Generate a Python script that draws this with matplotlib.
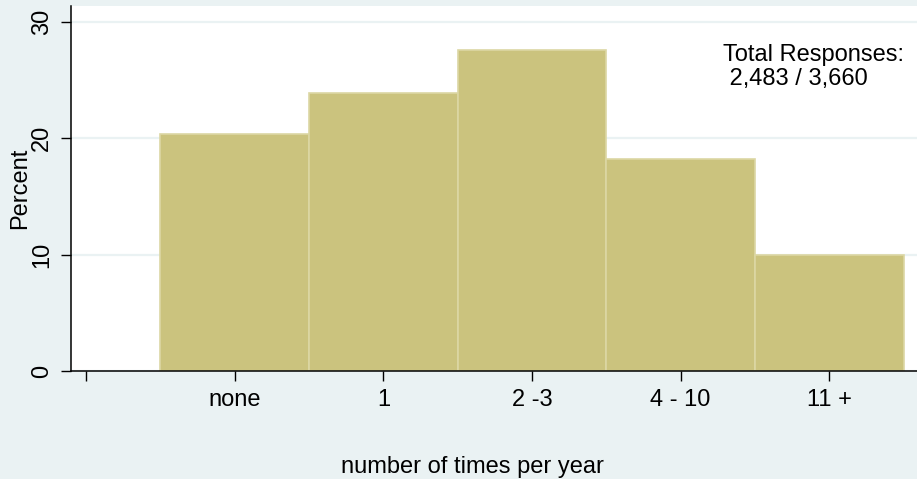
import matplotlib
matplotlib.use("Agg")
import matplotlib.pyplot as plt

# Data
categories = ["none", "1", "2 -3", "4 - 10", "11 +"]
percent = [20.4, 23.9, 27.6, 18.2, 10.0]
positions = [1, 2, 3, 4, 5]
y_ticks = [0, 10, 20, 30]
x_label = "number of times per year"
y_label = "Percent"
note_lines = ["Total Responses:", " 2,483 / 3,660"]

# Stata s2color-like colors
bg_color = "#eaf2f3"
bar_color = "#cbc37e"
edge_color = "#dcd7a4"

plt.rcParams["font.family"] = ["Liberation Sans", "DejaVu Sans"]
plt.rcParams["font.size"] = 17

fig = plt.figure(figsize=(9.17, 4.79), dpi=100, facecolor=bg_color)
ax = fig.add_axes([71 / 917, 1 - 371 / 479, 846 / 917, 365 / 479])
ax.set_facecolor("white")

# Histogram bars, touching each other
ax.bar(positions, percent, width=1.0, color=bar_color,
       edgecolor=edge_color, linewidth=1.2, zorder=2)

# Axis ranges
ax.set_xlim(-0.101, 5.59)
ax.set_ylim(0, 31.38)

# Ticks: blank tick at 0, then one per category
ax.set_xticks([0] + positions)
ax.set_xticklabels([""] + categories)
ax.set_yticks(y_ticks)
ax.set_yticklabels([str(t) for t in y_ticks], rotation=90, va="center")
ax.tick_params(axis="both", direction="out", length=7.2, width=1, color="black")
ax.tick_params(axis="x", pad=6)
ax.tick_params(axis="y", pad=5.5)

# Horizontal grid lines
ax.yaxis.grid(True, color=bg_color, linewidth=1.6)
ax.set_axisbelow(True)

# Spines
for side in ["top", "right"]:
    ax.spines[side].set_visible(False)
ax.spines["left"].set_linewidth(1.1)
ax.spines["bottom"].set_linewidth(1.1)

# Axis titles
fig.text(20 / 917, 1 - 188.5 / 479, y_label, rotation=90,
         ha="center", va="center")
fig.text(472 / 917, 1 - 473 / 479, x_label, ha="center", va="baseline")

# Note in upper right
ax.text(0.7707, 0.849, note_lines[0], transform=ax.transAxes, va="baseline")
ax.text(0.7707, 0.7836, note_lines[1], transform=ax.transAxes, va="baseline")

fig.savefig("out.png", dpi=100, facecolor=bg_color)
